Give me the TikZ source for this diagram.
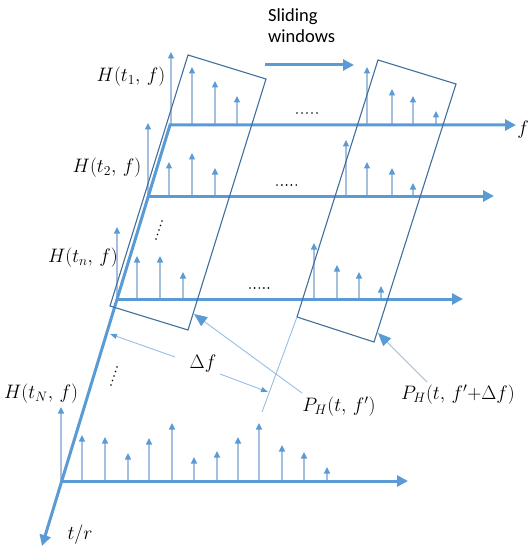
\RequirePackage{fix-cm}
\documentclass[tikz,border=0pt]{standalone}
\usepackage{fontspec}
\newfontfamily\carlito{Carlito}
\usetikzlibrary{arrows.meta}
\definecolor{axisblue}{RGB}{91,155,213}
\definecolor{winblue}{RGB}{65,110,155}
\definecolor{stemcol}{RGB}{165,192,222}
\definecolor{annot}{RGB}{150,190,228}
\begin{document}
\begin{tikzpicture}[x=1pt,y=-1pt,
  axis/.style={axisblue,line width=3pt,line join=miter},
  bigtip/.style={-{Triangle[width=11pt,length=11pt]}},
  stemline/.style={stemcol,line width=1.1pt,-{Triangle[width=6pt,length=6.5pt,color=axisblue,fill=axisblue]}},
  window/.style={winblue,line width=1.1pt,line join=miter},
  annotline/.style={annot,line width=0.9pt},
  smalltip/.style={-{Triangle[width=5pt,length=7pt,color=axisblue,fill=axisblue]}},
  largetip/.style={-{Triangle[width=11pt,length=13pt,color=axisblue,fill=axisblue]}},
  lbl/.style={font=\fontsize{19.5}{22}\selectfont,inner sep=0pt},
  dotmark/.style={fill=black,circle,inner sep=0pt,minimum size=1.9pt}
]
\useasboundingbox (0,0) rectangle (529,548);

% key coordinates
\coordinate (O1) at (170,125); \coordinate (E1) at (516,125);
\coordinate (O2) at (148,196); \coordinate (E2) at (494,196);
\coordinate (O3) at (118,299); \coordinate (E3) at (463,299);
\coordinate (ON) at (62,481);  \coordinate (EN) at (408,481);
\coordinate (Ttip) at (42,546);

% stems row 1
\foreach \x/\t in {171/52,192/67,215/81,237/96,367/67,392/89,413/96,436/111}
  \draw[stemline] (\x,125) -- (\x,\t);
% stems row 2
\foreach \x/\t in {148/123,169/162,192/153,215/168,346/140,367/162,392/168,413/183}
  \draw[stemline] (\x,196) -- (\x,\t);
% stems row 3
\foreach \x/\t in {117/227,137/256,160/256,183/272,314/243,337/265,359/272,381/286}
  \draw[stemline] (\x,299) -- (\x,\t);
% stems row N
\foreach \x/\t in {61/407,82/435,105/437,128/453,149/438,172/423,194/457,217/451,238/437,259/423,282/445,304/452,327/467}
  \draw[stemline] (\x,481) -- (\x,\t);

% axes
\draw[axis,{Triangle[width=11pt,length=11pt]}-{Triangle[width=11pt,length=11pt]}] (E1) -- (O1) -- (Ttip);
\draw[axis,bigtip] (O2) -- (E2);
\draw[axis,bigtip] (O3) -- (E3);
\draw[axis,bigtip] (ON) -- (EN);

% sliding windows arrow and text
\coordinate (sa) at (265,65); \coordinate (sb) at (354,65);
\draw[axis,bigtip] (sa) -- (sb);
\node[font=\carlito\fontsize{18.5}{21.5}\selectfont,align=left,anchor=north west,inner sep=0pt] (sw) at (268,8) {Sliding\\windows};

% windows
\coordinate (w1a) at (188,55); \coordinate (w1b) at (266,79);
\coordinate (w1c) at (188,330); \coordinate (w1d) at (110,306);
\coordinate (w2a) at (378,60); \coordinate (w2b) at (456,84);
\coordinate (w2c) at (374,342); \coordinate (w2d) at (297,317);
\draw[window] (w1a) -- (w1b) -- (w1c) -- (w1d) -- cycle;
\draw[window] (w2a) -- (w2b) -- (w2c) -- (w2d) -- cycle;
\coordinate (w2ext) at (262,412);
\draw[annotline] (w2d) -- (w2ext);

% labels
\node[lbl] (h1) at (131,77) {$H(t_1,\,f)$};
\node[lbl] (h2) at (107,168) {$H(t_2,\,f)$};
\node[lbl] (hn) at (83,258) {$H(t_n,\,f)$};
\node[lbl] (hN) at (41,394) {$H(t_N,\,f)$};
\node[lbl] (flab) at (523,130) {$f$};
\node[lbl] (tr) at (80,535) {$t/r$};
\node[lbl] (df) at (203,364) {$\Delta f$};
\node[lbl] (p1) at (339,407) {$P_H(t,\,f')$};
\node[lbl] (p2) at (458,395) {$P_H(t,\,f'{+}\Delta f)$};

% annotation connectors
\coordinate (dfa) at (175,357); \coordinate (dA) at (110,334);
\coordinate (dfb) at (220,374); \coordinate (dB) at (268,392);
\draw[annotline,smalltip] (dfa) -- (dA);
\draw[annotline,smalltip] (dfb) -- (dB);
\coordinate (p1s) at (302,393); \coordinate (w1tip) at (194,314);
\coordinate (p2s) at (427,382); \coordinate (w2tip) at (378,333);
\draw[annotline,largetip] (p1s) -- (w1tip);
\draw[annotline,largetip] (p2s) -- (w2tip);

% dots
\foreach \k in {0,...,4} {
  \node[dotmark] at ({297+5*\k},113) {};
  \node[dotmark] at ({277+4.8*\k},185) {};
  \node[dotmark] at ({250+4.6*\k},288) {};
  \node[dotmark] at ({156+1.5*\k},{239-4.5*\k}) {};
  \node[dotmark] at ({111+1.5*\k},{385-4.5*\k}) {};
}
\end{tikzpicture}
\end{document}
